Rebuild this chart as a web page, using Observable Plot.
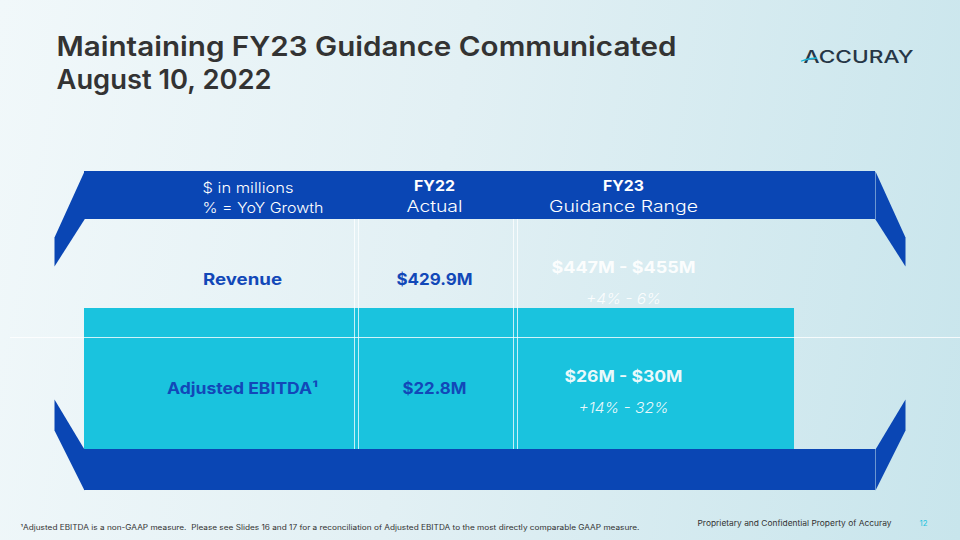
<!DOCTYPE html>
<html>
<head>
<meta charset="utf-8">
<script src="https://cdn.jsdelivr.net/npm/d3@7"></script>
<script src="https://cdn.jsdelivr.net/npm/@observablehq/plot@0.6"></script>
<style>
  html, body { margin: 0; padding: 0; width: 960px; height: 540px; overflow: hidden; }
  #chart svg { display: block; background: linear-gradient(100deg, #f1f8fa 0%, #e2f0f4 45%, #c8e5ec 100%); }
</style>
</head>
<body>
<div id="chart"></div>
<script>
// ---- data ----
const titleLines = ["Maintaining FY23 Guidance Communicated", "August 10, 2022"];
const headerNote = ["$ in millions", "% = YoY Growth"];
const columnTitles = ["FY22", "FY23"];
const columnSubtitles = ["Actual", "Guidance Range"];
const rowLabels = ["Revenue", "Adjusted EBITDA¹"];
const fy22Actual = ["$429.9M", "$22.8M"];
const fy23Range = ["$447M - $455M", "$26M - $30M"];
const fy23Growth = ["+4% - 6%", "+14% - 32%"];
const footnote = "¹Adjusted EBITDA is a non-GAAP measure.  Please see Slides 16 and 17 for a reconciliation of Adjusted EBITDA to the most directly comparable GAAP measure.";
const confidential = "Proprietary and Confidential Property of Accuray";
const pageNumber = "12";
const logoText = "ACCURAY";

// ---- layout ----
const W = 960, H = 540;
const BLUE = "#0a46b4", CYAN = "#1ac3de", FONT = "Inter, 'Open Sans', sans-serif";
const bandL = 84, bandR = 875, flapL = 54, flapR = 905;
const headTop = 171, headBot = 219, footTop = 449, footBot = 490;
const colX = [242, 434, 623];     // label / FY22 / FY23 column centres
const rowY = [279, 388];          // row centres
const hdrY = [186, 207];
// rendered text widths (px) so the substitute font spans the same room as the slide font
const textWidths = new Map([
  [titleLines[0], 620], [titleLines[1], 215], [logoText, 110],
  [headerNote[0], 91], [headerNote[1], 121],
  [columnTitles[0], 41], [columnTitles[1], 41],
  [columnSubtitles[0], 56], [columnSubtitles[1], 149],
  [rowLabels[0], 79], [rowLabels[1], 151],
  [fy22Actual[0], 76], [fy22Actual[1], 64],
  [fy23Range[0], 144], [fy23Range[1], 118],
  [fy23Growth[0], 75], [fy23Growth[1], 90],
  [footnote, 619], [confidential, 194]
]);

const polys = [
  {id: "hl", pts: [[bandL, headTop], [flapL, 237], [flapL, 266], [bandL, headBot]]},
  {id: "hr", pts: [[bandR, headTop], [flapR, 237], [flapR, 266], [bandR, headBot]]},
  {id: "fl", pts: [[flapL, 399], [bandL, footTop], [bandL, footBot], [flapL, 430]]},
  {id: "fr", pts: [[flapR, 399], [bandR, footTop], [bandR, footBot], [flapR, 430]]}
].flatMap(p => p.pts.map(([x, y]) => ({id: p.id, x, y})));

const rows = rowLabels.map((label, i) => ({label, fy22: fy22Actual[i], range: fy23Range[i], growth: fy23Growth[i], y: rowY[i]}));

const chart = Plot.plot({
  width: W, height: H,
  margin: 0,
  x: {domain: [0, W], range: [0, W], axis: null},
  y: {domain: [0, H], range: [0, H], axis: null},
  style: {fontFamily: FONT, overflow: "visible"},
  marks: [
    // cyan EBITDA block
    Plot.rect([0], {x1: bandL, x2: 794, y1: 308, y2: footTop, fill: CYAN}),
    // separators
    Plot.ruleX([354, 358, 513, 517], {y1: headBot, y2: footTop, stroke: "white", strokeOpacity: 0.75, strokeWidth: 1}),
    Plot.ruleY([337], {x1: 10, x2: W, stroke: "white", strokeOpacity: 0.8, strokeWidth: 1}),
    // header and footer bands
    Plot.rect([0], {x1: bandL, x2: bandR, y1: headTop, y2: headBot, fill: BLUE}),
    Plot.rect([0], {x1: bandL, x2: bandR, y1: footTop, y2: footBot, fill: BLUE}),
    Plot.line(polys, {x: "x", y: "y", z: "id", fill: BLUE, stroke: null}),
    // title
    Plot.text(titleLines, {x: 56, y: (d, i) => [47, 80][i], text: d => d, textAnchor: "start", fontSize: 27, fontWeight: 600, fill: "#333333"}),
    // logo
    Plot.text([logoText], {x: 858, y: 57, text: d => d, fontSize: 17, fontWeight: 500, fill: "#263646"}),
    Plot.line([[801, 60.5], [808, 58.5], [816, 57.5]], {stroke: "#19b5d6", strokeWidth: 1.3, curve: "natural"}),
    // header texts
    Plot.text(headerNote, {x: 202, y: (d, i) => [188, 208][i], text: d => d, textAnchor: "start", fontSize: 14.5, fontWeight: 300, fill: "white"}),
    Plot.text(columnTitles, {x: (d, i) => colX[i + 1], y: hdrY[0], text: d => d, fontSize: 15, fontWeight: 700, fill: "white"}),
    Plot.text(columnSubtitles, {x: (d, i) => colX[i + 1], y: hdrY[1], text: d => d, fontSize: 15.5, fontWeight: 300, fill: "white"}),
    // rows
    Plot.text(rows, {x: colX[0], y: "y", text: "label", fontSize: 16, fontWeight: 700, fill: "#1248b8"}),
    Plot.text(rows, {x: colX[1], y: "y", text: "fy22", fontSize: 16.5, fontWeight: 700, fill: "#1248b8"}),
    Plot.text(rows, {x: colX[2], y: d => d.y - 11, text: "range", fontSize: 15.5, fontWeight: 700, fill: "white", fillOpacity: 0.92}),
    Plot.text(rows, {x: colX[2], y: d => d.y + 20, text: "growth", fontSize: 15, fontWeight: 300, fontStyle: "italic", fill: "white", fillOpacity: 0.92}),
    // footer texts
    Plot.text([footnote], {x: 20, y: 527, text: d => d, textAnchor: "start", fontSize: 7.2, fill: "#333333"}),
    Plot.text([confidential], {x: 697, y: 523, text: d => d, textAnchor: "start", fontSize: 7.8, fill: "#333333"}),
    Plot.text([pageNumber], {x: 923, y: 523, text: d => d, fontSize: 7.8, fill: CYAN})
  ]
});

d3.select(chart).selectAll("text").each(function() {
  const w = textWidths.get(this.textContent);
  if (w) { this.setAttribute("textLength", w); this.setAttribute("lengthAdjust", "spacingAndGlyphs"); }
});
document.getElementById("chart").append(chart);
</script>
</body>
</html>
